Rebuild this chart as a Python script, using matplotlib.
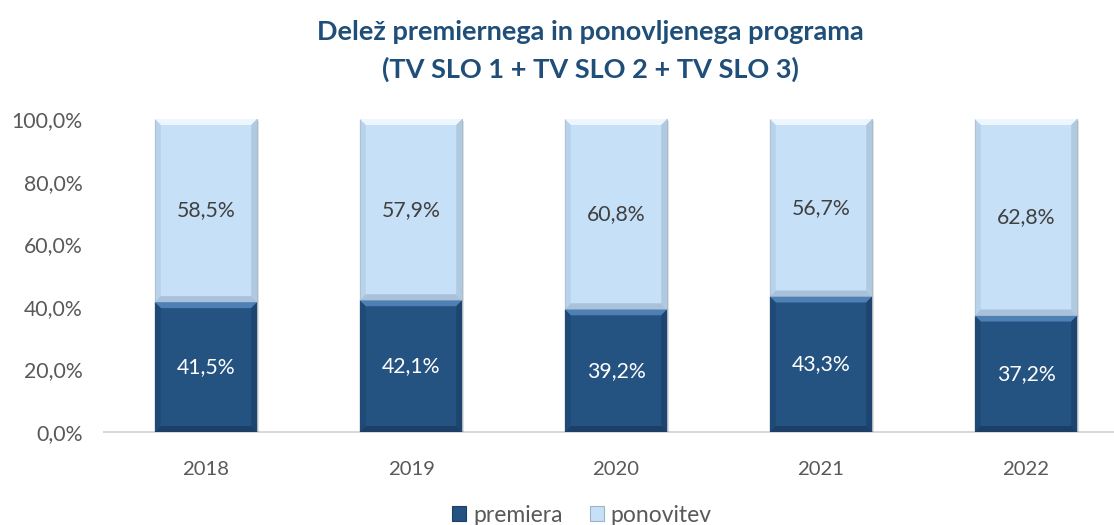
import matplotlib
matplotlib.use('Agg')
import matplotlib.pyplot as plt
from matplotlib.patches import Polygon, Rectangle
import numpy as np

years = ['2018', '2019', '2020', '2021', '2022']
premiera = [41.5, 42.1, 39.2, 43.3, 37.2]
ponovitev = [58.5, 57.9, 60.8, 56.7, 62.8]
y_ticks = [0, 20, 40, 60, 80, 100]
series_names = ['premiera', 'ponovitev']
title = 'Delež premiernega in ponovljenega programa\n(TV SLO 1 + TV SLO 2 + TV SLO 3)'

plt.rcParams['font.family'] = ['Lato', 'DejaVu Sans']

W, H = 1114, 525
fig = plt.figure(figsize=(W / 100, H / 100), dpi=100)
ax = fig.add_axes([103.5 / W, 93 / H, 1025 / W, 313 / H])

dark = '#245281'
light = '#C6E0F7'
x = np.arange(len(years))
bw = 0.5
b1 = ax.bar(x, premiera, bw, color=dark, zorder=3, linewidth=0)
b2 = ax.bar(x, ponovitev, bw, bottom=premiera, color=light, zorder=3,
            edgecolor='#A9B7C6', linewidth=0.7)
ax.set_xlim(-0.5, len(years) - 0.5)
ax.set_ylim(0, 100)

# bevel effect derived from bar geometry
px_x = (len(years)) / 1025.0
px_y = 100 / 313.0
def bevel(patch, top, side, bottom):
    x0, y0 = patch.get_x(), patch.get_y()
    w, h = patch.get_width(), patch.get_height()
    x1, y1 = x0 + w, y0 + h
    dx, dy = 6 * px_x, 6 * px_y
    ax.add_patch(Rectangle((x0 + 2 * px_x, y0 - 2 * px_y), w, h, color='#000000',
                           alpha=0.12, zorder=2, linewidth=0))
    ax.add_patch(Polygon([(x0, y1), (x1, y1), (x1 - dx, y1 - dy), (x0 + dx, y1 - dy)],
                         closed=True, color=top, zorder=4, linewidth=0))
    ax.add_patch(Polygon([(x0, y0), (x0, y1), (x0 + dx, y1 - dy), (x0 + dx, y0 + dy)],
                         closed=True, color=side, zorder=4, linewidth=0, alpha=0.6))
    ax.add_patch(Polygon([(x1, y0), (x1, y1), (x1 - dx, y1 - dy), (x1 - dx, y0 + dy)],
                         closed=True, color=side, zorder=4, linewidth=0))
    ax.add_patch(Polygon([(x0, y0), (x1, y0), (x1 - dx, y0 + dy), (x0 + dx, y0 + dy)],
                         closed=True, color=bottom, zorder=4, linewidth=0))

for p in b1:
    bevel(p, '#4F80B5', '#1D4570', '#1B3F66')
for p in b2:
    bevel(p, '#EEF6FD', '#AFC9E0', '#A9C2DA')

def fmt(v):
    return f'{v:.1f}%'.replace('.', ',')

for i in range(len(years)):
    ax.text(x[i], premiera[i] / 2, fmt(premiera[i]), ha='center', va='center',
            color='white', fontsize=15.3, zorder=6)
    ax.text(x[i], premiera[i] + ponovitev[i] / 2, fmt(ponovitev[i]), ha='center',
            va='center', color='#404040', fontsize=15.3, zorder=6)

ax.set_yticks(y_ticks)
ax.set_yticklabels([fmt(v) for v in y_ticks], fontsize=15.3, color='#595959')
ax.set_xticks(x)
ax.set_xticklabels(years, fontsize=14.6, color='#595959')
ax.tick_params(axis='both', length=0)
ax.tick_params(axis='y', pad=15)
ax.tick_params(axis='x', pad=21)
for s in ['top', 'right', 'left']:
    ax.spines[s].set_visible(False)
ax.spines['bottom'].set_color('#D9D9D9')
ax.spines['bottom'].set_linewidth(1.5)
ax.spines['bottom'].set_zorder(1)

fig.text(590 / W, 1 - 51 / H, title, ha='center', va='center', fontsize=19.5,
         fontweight='bold', color='#1F4E79', linespacing=1.6, multialignment='center')

handles = [Rectangle((0, 0), 1, 1, facecolor=dark, edgecolor='#1B3F66', linewidth=0.8),
           Rectangle((0, 0), 1, 1, facecolor=light, edgecolor='#9FB3C8', linewidth=0.8)]
fig.legend(handles, series_names, loc='center', bbox_to_anchor=(582 / W, 1 - 515 / H),
           ncol=2, frameon=False, fontsize=16.5, handlelength=0.6, handleheight=0.6,
           handletextpad=0.3, columnspacing=1.2, labelcolor='#595959')

fig.savefig('out.png', dpi=100)
